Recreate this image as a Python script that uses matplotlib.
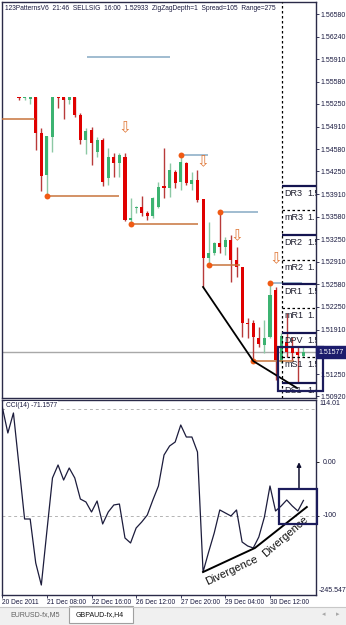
import matplotlib
matplotlib.use("Agg")
import matplotlib.pyplot as plt
import matplotlib.transforms as mtransforms
from matplotlib.patches import Rectangle

plt.rcParams["font.family"] = ["Liberation Sans", "DejaVu Sans"]

# =============================================================================
# DATA
# =============================================================================

first_bar = 3

opens = [1.55352, 1.55337, 1.55322, 1.55352, 1.54819, 1.54197, 1.54760, 1.55352,
         1.55352, 1.55307, 1.55352, 1.55085, 1.54715, 1.54863, 1.54538, 1.54715,
         1.54153, 1.54464, 1.54375, 1.54464, 1.53531, 1.53709, 1.53724, 1.53635,
         1.53590, 1.53724, 1.54034, 1.54005, 1.54242, 1.54094, 1.54375, 1.54064,
         1.54123, 1.53842, 1.52969, 1.53043, 1.53191, 1.53132, 1.53235, 1.52939,
         1.52836, 1.52007, 1.52007, 1.51785, 1.51681, 1.51800, 1.52495, 1.51430,
         1.51726, 1.51637, 1.51578, 1.51518]

highs = [1.55352, 1.55352, 1.55352, 1.55352, 1.54893, 1.54774, 1.55352, 1.55352,
         1.55352, 1.55352, 1.55352, 1.55115, 1.54893, 1.54908, 1.54760, 1.54745,
         1.54597, 1.54523, 1.54523, 1.54523, 1.53857, 1.53738, 1.53886, 1.53664,
         1.53872, 1.54094, 1.54597, 1.54375, 1.54271, 1.54493, 1.54390, 1.54242,
         1.54271, 1.53842, 1.53502, 1.53206, 1.53664, 1.53280, 1.53309, 1.53132,
         1.52836, 1.52081, 1.52051, 1.51948, 1.52051, 1.52599, 1.52540, 1.51859,
         1.52155, 1.51800, 1.51652, 1.51652]

lows = [1.55307, 1.55307, 1.55248, 1.54567, 1.53960, 1.53901, 1.54538, 1.55189,
        1.55026, 1.55248, 1.55056, 1.54656, 1.54508, 1.54345, 1.54464, 1.54034,
        1.54049, 1.54168, 1.54168, 1.53517, 1.53487, 1.53635, 1.53590, 1.53531,
        1.53561, 1.53709, 1.53857, 1.53872, 1.54005, 1.53975, 1.54049, 1.53975,
        1.53798, 1.52540, 1.52865, 1.53013, 1.53043, 1.53013, 1.52614, 1.52688,
        1.51800, 1.51785, 1.51459, 1.51652, 1.51563, 1.51785, 1.51163, 1.51415,
        1.51504, 1.51459, 1.51134, 1.51504]

closes = [1.55337, 1.55352, 1.55352, 1.54819, 1.54182, 1.54774, 1.55352, 1.55337,
          1.55307, 1.55352, 1.55085, 1.54715, 1.54848, 1.54671, 1.54715, 1.54094,
          1.54464, 1.54375, 1.54493, 1.53531, 1.53561, 1.53724, 1.53635, 1.53590,
          1.53857, 1.54020, 1.54005, 1.54271, 1.54079, 1.54390, 1.54079, 1.54123,
          1.53827, 1.52969, 1.53043, 1.53191, 1.53132, 1.53235, 1.52939, 1.52836,
          1.52007, 1.51992, 1.51800, 1.51696, 1.51785, 1.52421, 1.51459, 1.51814,
          1.51578, 1.51563, 1.51533, 1.51577]

cci_values = [102.8, 54.4, 91.7, -7.1, -105.8, -105.8, -187.8, -228.8, -128.2, -29.4,
              -5.2, -33.2, -10.8, -29.4, -68.6, -74.1, -92.8, -72.3, -115.1, -92.8,
              -79.7, -77.9, -141.2, -150.5, -122.6, -111.4, -98.4, -70.4, -44.3, 13.4,
              30.2, 37.6, 69.3, 46.9, 46.9, 19.0, -204.5, -167.3, -131.9, -89.0,
              -94.6, -100.2, -89.0, -148.7, -156.1, -159.8, -139.3, -102.1, -44.3, -90.9,
              -81.6, -70.4, -81.6, -90.9, -71.2]

time_label_bars = [0, 8, 16, 24, 32, 40, 48]
time_labels = ["20 Dec 2011", "21 Dec 08:00", "22 Dec 16:00", "26 Dec 12:00",
               "27 Dec 20:00", "29 Dec 04:00", "30 Dec 12:00"]

price_ticks = [1.56580, 1.56240, 1.55910, 1.55580, 1.55250, 1.54910, 1.54580,
               1.54250, 1.53910, 1.53580, 1.53250, 1.52910, 1.52580, 1.52250,
               1.51910, 1.51250, 1.50920]
current_price = 1.51577

# 123 pattern levels
orange_start = [-0.05, 8, 23, 37, 45]
orange_end = [5.9, 20.9, 35.1, 42.6, 52.3]
orange_price = [1.55026, 1.53886, 1.53472, 1.52865, 1.51444]

blue_start = [15.2, 32, 39, 48]
blue_end = [30.1, 36.9, 45.9, 53.8]
blue_price = [1.55944, 1.54493, 1.53650, 1.52599]

dot_bars = [8, 23, 32, 37, 39, 45, 48]
dot_prices = [1.53886, 1.53472, 1.54493, 1.52865, 1.53650, 1.51444, 1.52599]

arrow_bars = [22, 36, 42, 49]
arrow_prices = [1.54893, 1.54390, 1.53294, 1.52954]

# daily pivots (values are cut off by the chart edge)
pivot_names = ["DR3", "mR3", "DR2", "mR2", "DR1", "mR1", "DPV", "mS1", "DS1"]
pivot_prices = [1.54034, 1.53679, 1.53309, 1.52939, 1.52584, 1.52229, 1.51859,
                1.51504, 1.51119]
pivot_value_text = ["1.5", "1.", "1.5", "1.", "1.5", "1.", "1.5", "1.5", "1.4"]
pivot_start = 50.15

# divergence lines
price_div_bars = [36.0, 45.0, 52.85]
price_div_values = [1.52540, 1.51444, 1.51045]
cci_div_bars = [36.0, 45.3, 54.6]
cci_div_values = [-204.6, -159.8, -83.5]

# =============================================================================
# FIGURE
# =============================================================================

W, H = 346, 625
fig = plt.figure(figsize=(W / 100, H / 100), dpi=100)
fig.patch.set_facecolor("white")

X_LIM = (-0.05, 56.25)
frame_color = "#2a2a48"
text_color = "#1a1a40"

ax1 = fig.add_axes([2 / W, 227 / H, 314 / W, 396 / H])
ax2 = fig.add_axes([2 / W, 30 / H, 314 / W, 195 / H])

for ax in (ax1, ax2):
    ax.set_xlim(*X_LIM)
    for sp in ax.spines.values():
        sp.set_color(frame_color)
        sp.set_linewidth(1.0)
    ax.yaxis.tick_right()

ax1.set_ylim(1.50897, 1.56758)
ax2.set_ylim(-247.41, 115.87)

# =============================================================================
# MAIN CHART
# =============================================================================

# current price line
ax1.axhline(current_price, color="#a8a8a8", lw=1, zorder=1)

# candles
for k in range(len(opens)):
    x = first_bar + k
    o, h, l, c = opens[k], highs[k], lows[k], closes[k]
    up = c >= o
    body_col = "#3cb371" if up else "#e00000"
    wick_col = "#8cc8a4" if up else "#b83a3a"
    ax1.vlines(x, l, h, color=wick_col, lw=1, zorder=2)
    body = max(abs(c - o), 0.00008)
    ax1.bar(x, body, bottom=min(o, c), width=0.55, color=body_col,
            linewidth=0, zorder=3)

# pattern lines
ax1.hlines(orange_price, orange_start, orange_end, color="#c8743c", lw=1.1, zorder=4)
ax1.hlines(blue_price, blue_start, blue_end, color="#86aac4", lw=1.1, zorder=4)
ax1.scatter(dot_bars, dot_prices, s=18, color="#f05a14", zorder=5, linewidths=0)

for xb, yp in zip(arrow_bars, arrow_prices):
    ax1.text(xb, yp, "\u21e9", fontsize=11, color="#e07838", ha="center",
             va="center", family="DejaVu Sans", zorder=6)

ax1.plot(price_div_bars, price_div_values, color="black", lw=1.3, zorder=6)

# pivot boxes
ax1.axvline(pivot_start, color="black", lw=0.9, ls=(0, (2, 2)), zorder=4)
for name, p, val in zip(pivot_names, pivot_prices, pivot_value_text):
    if name.startswith("D"):
        ax1.hlines(p, pivot_start, X_LIM[1], color="#141450", lw=1.6, zorder=5)
    else:
        ax1.hlines(p, pivot_start, X_LIM[1], color="black", lw=0.9,
                   ls=(0, (2, 2)), zorder=5)
    ax1.text(pivot_start + 0.45, p - 0.00104, name, fontsize=6.5,
             color="#202030", va="center", ha="left", zorder=6)
    t = ax1.text(pivot_start + 4.55, p - 0.00104, val, fontsize=6.5,
                 color="#202030", va="center", ha="left", zorder=6)
    t.set_clip_path(None)
    t.set_clip_box(ax1.bbox)
    t.set_clip_on(True)

box = Rectangle((49.44, 1.51000), 57.5 - 49.44, 1.51652 - 1.51000, fill=False,
                ec="#1c1c5c", lw=1.6, clip_on=False, zorder=7)
ax1.add_patch(box)

# axis labels
ax1.set_xticks([])
ax1.set_yticks(price_ticks)
ax1.set_yticklabels([f"{p:.5f}" for p in price_ticks])
ax1.tick_params(axis="y", length=2, width=0.6, pad=1.5, labelsize=5,
                colors=text_color)

ytrans = mtransforms.blended_transform_factory(ax1.transAxes, ax1.transData)
ax1.text(1.008, current_price, f"{current_price:.5f}", transform=ytrans,
         fontsize=5, color="white", ha="left", va="center", clip_on=False,
         zorder=10,
         bbox=dict(boxstyle="square,pad=0.3", fc="#1c1c6c", ec="#1c1c6c"))

ax1.text(0.008, 0.993,
         "123PatternsV6  21:46  SELLSIG  16:00  1.52933  ZigZagDepth=1  Spread=105  Range=275",
         transform=ax1.transAxes, fontsize=4.8, color=text_color,
         ha="left", va="top")

# =============================================================================
# CCI PANEL
# =============================================================================

ax2.axhline(100, color="#b4b4b4", lw=0.7, ls=(0, (3, 3)), zorder=1)
ax2.axhline(-100, color="#b4b4b4", lw=0.7, ls=(0, (3, 3)), zorder=1)
ax2.plot(range(len(cci_values)), cci_values, color="#1c1c3c", lw=0.9, zorder=3)

ax2.plot(cci_div_bars, cci_div_values, color="black", lw=1.4, zorder=4)
ax2.text(41.1, -200.8, "Divergence", fontsize=8, rotation=25, ha="center",
         va="center", rotation_mode="anchor", color="#101010", zorder=5)
ax2.text(50.7, -138.8, "Divergence", fontsize=8, rotation=41, ha="center",
         va="center", rotation_mode="anchor", color="#101010", zorder=5)

cci_box = Rectangle((49.62, -115.1), 56.43 - 49.62, 65.2, fill=False,
                    ec="#1c1c5c", lw=1.6, clip_on=False, zorder=6)
ax2.add_patch(cci_box)
ax2.annotate("", xy=(53.2, 0), xytext=(53.2, -49.9),
             arrowprops=dict(arrowstyle="-|>", color="#101030", lw=1.1,
                             mutation_scale=6, shrinkA=0, shrinkB=0))

ax2.text(0.012, 0.99, "CCI(14) -71.1577", transform=ax2.transAxes,
         fontsize=4.8, color=text_color, ha="left", va="top", zorder=5,
         bbox=dict(boxstyle="square,pad=0.15", fc="white", ec="none"))

ax2.set_yticks([0, -100])
ax2.set_yticklabels([])
ax2.tick_params(axis="y", length=2, width=0.6)
ytrans2 = mtransforms.blended_transform_factory(ax2.transAxes, ax2.transData)
ax2.text(1.01, 115.0, "114.01", transform=ytrans2, fontsize=5,
         color=text_color, ha="left", va="top", clip_on=False)
ax2.text(1.02, 0, "0.00", transform=ytrans2, fontsize=5,
         color=text_color, ha="left", va="center", clip_on=False)
ax2.text(1.02, -100, "-100", transform=ytrans2, fontsize=5,
         color=text_color, ha="left", va="center", clip_on=False)
ax2.text(1.01, -246.0, "-245.547", transform=ytrans2, fontsize=5,
         color=text_color, ha="left", va="bottom", clip_on=False)

ax2.set_xticks(time_label_bars)
ax2.set_xticklabels(time_labels, ha="left")
ax2.tick_params(axis="x", length=2, width=0.6, pad=1, labelsize=4.8,
                colors=text_color)

# =============================================================================
# TAB BAR
# =============================================================================

tab = fig.add_axes([0, 0, 1, 20 / H])
tab.set_xlim(0, W)
tab.set_ylim(0, 20)
tab.axis("off")
tab.add_patch(Rectangle((0, 0), W, 18, fc="#f0f0f0", ec="none"))
tab.plot([0, W], [18, 18], color="#c8c8c8", lw=0.8)
tab.add_patch(Rectangle((69, 2), 64, 17, fc="white", ec="#a0a0a0", lw=0.8))
tab.text(10, 10.5, "EURUSD-fx,M5", fontsize=5, color="#606060", va="center")
tab.text(76, 10.5, "GBPAUD-fx,H4", fontsize=5, color="#101010", va="center")
tab.text(322, 10.5, "\u25c2", fontsize=5, color="#a8a8a8", va="center",
         family="DejaVu Sans")
tab.text(336, 10.5, "\u25b8", fontsize=5, color="#a8a8a8", va="center",
         family="DejaVu Sans")

fig.savefig("out.png", dpi=100)
